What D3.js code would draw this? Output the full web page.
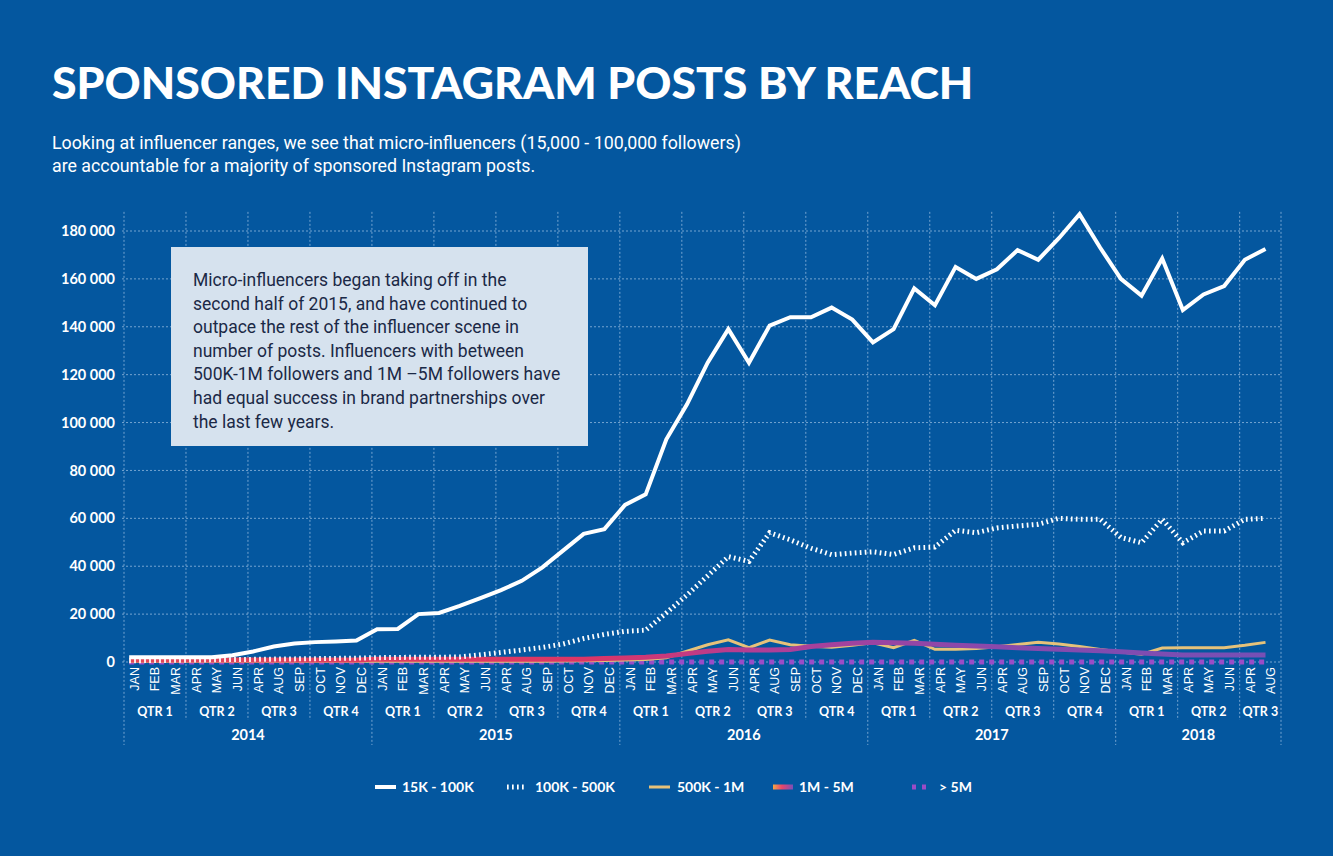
<!DOCTYPE html>
<html><head><meta charset="utf-8">
<script src="https://cdn.jsdelivr.net/npm/d3@7"></script>
<style>
html,body{margin:0;padding:0;background:#04579f;}
svg{display:block;}
</style></head><body>
<svg id="chart" width="1333" height="856"></svg>
<script>
// ---------- DATA ----------
const years = [2014, 2015, 2016, 2017, 2018];
const monthNames = ["JAN","FEB","MAR","APR","MAY","JUN","APR","AUG","SEP","OCT","NOV","DEC"];
const monthsPerYear = [12, 12, 12, 12, 8];
const quarterNames = ["QTR 1","QTR 2","QTR 3","QTR 4"];
const yTickValues = [0, 20000, 40000, 60000, 80000, 100000, 120000, 140000, 160000, 180000];
const seriesNames = ["15K - 100K", "100K - 500K", "500K - 1M", "1M - 5M", "> 5M"];

const reach15kTo100k = [2000,2000,2000,2000,2000,2800,4400,6500,7700,8300,8600,9000,
  13700,13800,20000,20500,23400,26700,30000,33900,39500,46500,53500,55500,
  65600,70000,93000,107600,125000,139000,125000,140500,144000,144000,148000,143000,
  133500,139000,156000,149000,165000,160000,164000,172000,168000,177000,187000,173000,
  160000,153000,168500,147000,153500,157000,168000,172500];
const reach100kTo500k = [500,600,700,800,900,1000,1100,1200,1300,1400,1500,1600,
  1800,1900,2000,2000,2100,3000,4000,5000,6100,7500,9800,11500,
  12800,13300,20500,28000,36000,44000,42000,54000,51000,47500,44800,45500,
  46000,44900,47700,48000,55000,54000,56000,56800,57500,60000,59600,59600,
  52000,49800,59600,49800,54700,54700,59600,60000];
const reach500kTo1m = [300,300,300,300,300,300,300,300,300,300,300,300,
  300,300,300,300,300,300,300,300,300,400,500,600,
  800,1000,1800,4500,7200,9300,6000,9200,7200,6600,6200,7000,
  8000,6000,9000,5300,5300,5600,6400,7300,8200,7500,6500,5200,
  4200,3200,5800,6000,6000,6000,7000,8200];
const reach1mTo5m = [800,800,800,800,800,800,800,800,800,800,800,800,
  1200,1200,1200,1200,1200,1200,1200,1200,1200,1200,1200,1500,
  1700,2000,2500,3500,4500,5200,5000,5000,5200,6500,7200,7800,
  8200,8000,7800,7400,7000,6700,6400,6000,5600,5300,5000,4700,
  4300,3800,3300,2900,2900,2900,2900,2900];
const reachOver5m = [0,0,0,0,0,0,0,0,0,0,0,0,
  0,0,0,0,0,0,0,0,0,0,0,0,
  0,0,0,0,0,0,0,0,0,0,0,0,
  0,0,0,0,0,0,0,0,0,0,0,0,
  0,0,0,0,0,0,0,0];

const titleText = "SPONSORED INSTAGRAM POSTS BY REACH";
const subtitleLines = [
  "Looking at influencer ranges, we see that micro-influencers (15,000 - 100,000 followers)",
  "are accountable for a majority of sponsored Instagram posts."
];
const noteLines = [
  "Micro-influencers began taking off in the",
  "second half of 2015, and have continued to",
  "outpace the rest of the influencer scene in",
  "number of posts. Influencers with between",
  "500K-1M followers and 1M \u20135M followers have",
  "had equal success in brand partnerships over",
  "the last few years."
];

// ---------- BUILD ----------
const months = [];
years.forEach((yr, yi) => {
  for (let m = 0; m < monthsPerYear[yi]; m++) {
    months.push({key: yr + "-" + m, label: monthNames[m], year: yr, q: Math.floor(m / 3)});
  }
});

const BG = "#04579f";
const svg = d3.select("#chart");
svg.append("rect").attr("width", 1333).attr("height", 856).attr("fill", BG);

const x = d3.scaleBand().domain(months.map(d => d.key)).range([124, 1281]).padding(0);
const y = d3.scaleLinear().domain([0, 180000]).range([662, 231]);
const bw = x.bandwidth();
const px = i => x(months[i].key) + bw * 0.25;
const plotTop = y(188000);

// defs
const defs = svg.append("defs");
const grad = defs.append("linearGradient").attr("id", "g1m")
  .attr("gradientUnits", "userSpaceOnUse")
  .attr("x1", x.range()[0]).attr("x2", x.range()[1]).attr("y1", 0).attr("y2", 0);
[["0%","#e34656"],["40%","#dc3566"],["55%","#b13e96"],["72%","#8c48aa"],["100%","#7550b6"]]
  .forEach(([o,c]) => grad.append("stop").attr("offset", o).attr("stop-color", c));
const lgrad = defs.append("linearGradient").attr("id", "g1mLeg");
[["0%","#f4a545"],["45%","#e8456a"],["100%","#7b4fb8"]]
  .forEach(([o,c]) => lgrad.append("stop").attr("offset", o).attr("stop-color", c));

// ---------- TITLE ----------
svg.append("text").attr("x", 52).attr("y", 99)
  .attr("font-family", "Lato, sans-serif").attr("font-weight", 900)
  .attr("font-size", 44.6).attr("fill", "#fff").text(titleText);

svg.selectAll("text.sub").data(subtitleLines).join("text").attr("class", "sub")
  .attr("x", 52).attr("y", (d, i) => 149 + i * 23)
  .attr("font-family", "Roboto, sans-serif").attr("font-weight", 400)
  .attr("font-size", 17.8).attr("fill", "#fff").text(d => d);

// ---------- GRID ----------
const grid = svg.append("g").attr("stroke", "rgba(210,228,250,0.55)")
  .attr("stroke-width", 1).attr("stroke-dasharray", "2,2");
grid.selectAll("line.h").data(yTickValues).join("line")
  .attr("x1", x.range()[0] - 2).attr("x2", x.range()[1])
  .attr("y1", d => y(d)).attr("y2", d => y(d));

const qStarts = months.filter((d, i) => i === 0 || d.q !== months[i - 1].q);
grid.selectAll("line.v").data(qStarts).join("line")
  .attr("x1", d => x(d.key)).attr("x2", d => x(d.key))
  .attr("y1", plotTop).attr("y2", d => d.q === 0 ? 745 : 720);
grid.append("line").attr("x1", x.range()[1]).attr("x2", x.range()[1])
  .attr("y1", plotTop).attr("y2", 745);

// ---------- Y AXIS ----------
const yAxis = svg.append("g").attr("transform", "translate(115,0)")
  .call(d3.axisLeft(y).tickValues(yTickValues).tickSize(0).tickPadding(0)
    .tickFormat(d => d3.format(",")(d).replace(/,/g, " ")));
yAxis.select(".domain").remove();
yAxis.selectAll("text").attr("font-family", "Lato, sans-serif").attr("font-weight", 700)
  .attr("font-size", 14.5).attr("fill", "#fff");

// ---------- X AXIS ----------
const xAxis = svg.append("g").attr("transform", "translate(0,667)")
  .call(d3.axisBottom(x).tickSize(0).tickFormat((d, i) => months[i].label));
xAxis.select(".domain").remove();
xAxis.selectAll("text")
  .attr("font-family", "'Liberation Sans', Arial, sans-serif").attr("font-size", 12.5)
  .attr("fill", "#fff").attr("text-anchor", "end")
  .attr("transform", "rotate(-90)").attr("x", 0).attr("y", 0).attr("dy", "0.36em");

// quarter labels
const quarters = d3.groups(months, d => d.year + "-" + d.q).map(([k, arr]) => ({
  label: quarterNames[arr[0].q],
  cx: (x(arr[0].key) + x(arr[arr.length - 1].key) + bw) / 2
}));
svg.selectAll("text.q").data(quarters).join("text").attr("class", "q")
  .attr("x", d => d.cx).attr("y", 716).attr("text-anchor", "middle")
  .attr("font-family", "Lato, sans-serif").attr("font-weight", 700).attr("font-size", 12.5)
  .attr("fill", "#fff").text(d => d.label);

const yearGroups = d3.groups(months, d => d.year).map(([yr, arr]) => ({
  label: yr, cx: (x(arr[0].key) + x(arr[arr.length - 1].key) + bw) / 2
}));
svg.selectAll("text.yr").data(yearGroups).join("text").attr("class", "yr")
  .attr("x", d => d.cx).attr("y", 740).attr("text-anchor", "middle")
  .attr("font-family", "Lato, sans-serif").attr("font-weight", 700).attr("font-size", 14.5)
  .attr("fill", "#fff").text(d => d.label);

// ---------- LINES ----------
const line = d3.line().x((d, i) => px(i)).y(d => y(d));
const series = [
  {data: reachOver5m, stroke: "#9a4cc6", width: 5, dash: "5,5"},
  {data: reach500kTo1m, stroke: "#e6c27a", width: 3, dash: null},
  {data: reach1mTo5m, stroke: "url(#g1m)", width: 5, dash: null},
  {data: reach100kTo500k, stroke: "#ffffff", width: 5, dash: "1.7,3.3"},
  {data: reach15kTo100k, stroke: "#ffffff", width: 4, dash: null}
];
svg.append("g").selectAll("path").data(series).join("path")
  .attr("d", d => line(d.data)).attr("fill", "none")
  .attr("stroke", d => d.stroke).attr("stroke-width", d => d.width)
  .attr("stroke-dasharray", d => d.dash).attr("stroke-linejoin", "miter");

// ---------- NOTE BOX ----------
svg.append("rect").attr("x", 171).attr("y", 247).attr("width", 417).attr("height", 199)
  .attr("fill", "#d6e2ee");
svg.selectAll("text.note").data(noteLines).join("text").attr("class", "note")
  .attr("x", 193).attr("y", (d, i) => 286 + i * 23.6)
  .attr("font-family", "Roboto, sans-serif").attr("font-size", 17.5)
  .attr("fill", "#1b2946").text(d => d);

// ---------- LEGEND ----------
const legend = [
  {label: seriesNames[0], x1: 375, x2: 396, tx: 402, stroke: "#fff", width: 4, dash: null},
  {label: seriesNames[1], x1: 507, x2: 525, tx: 535, stroke: "#fff", width: 5, dash: "1.7,3.3"},
  {label: seriesNames[2], x1: 649, x2: 670, tx: 677, stroke: "#e6c27a", width: 3, dash: null},
  {label: seriesNames[3], x1: 773, x2: 793, tx: 799, stroke: "url(#g1mLeg)", width: 5, dash: null},
  {label: seriesNames[4], x1: 912, x2: 929, tx: 939, stroke: "#9a4cc6", width: 5, dash: "4,6"}
];
const lg = svg.append("g").selectAll("g").data(legend).join("g");
lg.filter(d => !d.dash).append("rect").attr("x", d => d.x1).attr("y", d => 787 - d.width / 2)
  .attr("width", d => d.x2 - d.x1).attr("height", d => d.width)
  .attr("fill", d => d.stroke);
lg.filter(d => d.dash).append("line").attr("x1", d => d.x1).attr("x2", d => d.x2)
  .attr("y1", 787).attr("y2", 787).attr("stroke", d => d.stroke)
  .attr("stroke-width", d => d.width).attr("stroke-dasharray", d => d.dash);
lg.append("text").attr("x", d => d.tx).attr("y", 792)
  .attr("font-family", "Lato, sans-serif").attr("font-weight", 700).attr("font-size", 14)
  .attr("fill", "#fff").text(d => d.label);
</script>
</body></html>
